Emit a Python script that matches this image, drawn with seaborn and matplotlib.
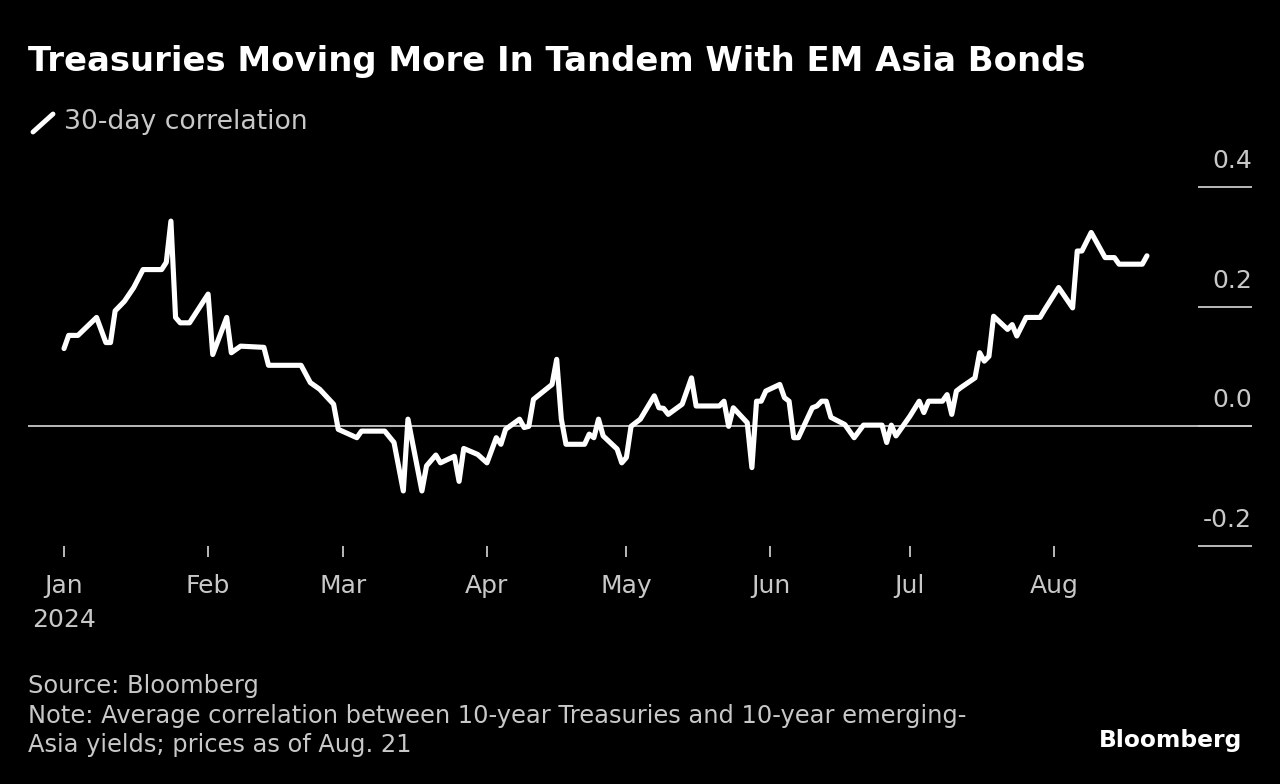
import pandas as pd
import seaborn as sns
import matplotlib
matplotlib.use('Agg')
import matplotlib.pyplot as plt
from matplotlib.lines import Line2D

# 30-day correlation (one entry per visible vertex)
dates = ['2024-01-01', '2024-01-02', '2024-01-04', '2024-01-08', '2024-01-10', '2024-01-11', '2024-01-12', '2024-01-14',
         '2024-01-16', '2024-01-18', '2024-01-22', '2024-01-23', '2024-01-24', '2024-01-25', '2024-01-26', '2024-01-28',
         '2024-02-01', '2024-02-02', '2024-02-05', '2024-02-06', '2024-02-08', '2024-02-13', '2024-02-14', '2024-02-21',
         '2024-02-23', '2024-02-25', '2024-02-28', '2024-02-29',
         '2024-03-04', '2024-03-05', '2024-03-10', '2024-03-12', '2024-03-14', '2024-03-15', '2024-03-18', '2024-03-19',
         '2024-03-21', '2024-03-22', '2024-03-25', '2024-03-26', '2024-03-27', '2024-03-30',
         '2024-04-01', '2024-04-03', '2024-04-04', '2024-04-05', '2024-04-08', '2024-04-09', '2024-04-10', '2024-04-11',
         '2024-04-15', '2024-04-16', '2024-04-17', '2024-04-18', '2024-04-22', '2024-04-23', '2024-04-24', '2024-04-25',
         '2024-04-26', '2024-04-29', '2024-04-30',
         '2024-05-01', '2024-05-02', '2024-05-04', '2024-05-07', '2024-05-08', '2024-05-09', '2024-05-10', '2024-05-13',
         '2024-05-15', '2024-05-16', '2024-05-21', '2024-05-22', '2024-05-23', '2024-05-24', '2024-05-27', '2024-05-28',
         '2024-05-29', '2024-05-30', '2024-05-31',
         '2024-06-03', '2024-06-04', '2024-06-05', '2024-06-06', '2024-06-07', '2024-06-10', '2024-06-11', '2024-06-12',
         '2024-06-13', '2024-06-14', '2024-06-17', '2024-06-19', '2024-06-21', '2024-06-25', '2024-06-26', '2024-06-27',
         '2024-06-28',
         '2024-07-01', '2024-07-03', '2024-07-04', '2024-07-05', '2024-07-08', '2024-07-09', '2024-07-10', '2024-07-11',
         '2024-07-12', '2024-07-15', '2024-07-16', '2024-07-17', '2024-07-18', '2024-07-19', '2024-07-22', '2024-07-23',
         '2024-07-24', '2024-07-26', '2024-07-29', '2024-07-30',
         '2024-08-02', '2024-08-05', '2024-08-06', '2024-08-07', '2024-08-09', '2024-08-12', '2024-08-14', '2024-08-15',
         '2024-08-20', '2024-08-21']
corr = [0.130, 0.152, 0.152, 0.182, 0.140, 0.140, 0.193, 0.209, 0.232, 0.262, 0.262, 0.274, 0.343, 0.182, 0.173, 0.173,
        0.221, 0.120, 0.182, 0.123, 0.134, 0.132, 0.102, 0.102, 0.073, 0.062, 0.037, -0.005,
        -0.019, -0.008, -0.008, -0.027, -0.108, 0.012, -0.108, -0.066, -0.048, -0.061, -0.050, -0.092, -0.037, -0.047,
        -0.061, -0.019, -0.030, -0.005, 0.012, -0.002, 0.000, 0.045, 0.070, 0.112, 0.012, -0.030, -0.030, -0.013,
        -0.019, 0.012, -0.016, -0.038, -0.061,
        -0.052, 0.000, 0.012, 0.051, 0.031, 0.030, 0.020, 0.037, 0.081, 0.034, 0.034, 0.042, 0.000, 0.031, 0.006,
        -0.069, 0.042, 0.042, 0.059,
        0.070, 0.048, 0.042, -0.019, -0.019, 0.031, 0.034, 0.042, 0.042, 0.015, 0.003, -0.019, 0.002, 0.002, -0.027,
        0.002, -0.016,
        0.017, 0.042, 0.023, 0.042, 0.042, 0.053, 0.020, 0.059, 0.065, 0.081, 0.123, 0.109, 0.117, 0.184, 0.162,
        0.170, 0.151, 0.182, 0.182, 0.195,
        0.232, 0.198, 0.293, 0.293, 0.324, 0.282, 0.282, 0.271, 0.271, 0.285]

y_ticks = [-0.2, 0.0, 0.2, 0.4]
y_labels = ['-0.2', '0.0', '0.2', '0.4']
month_starts = pd.date_range('2024-01-01', '2024-08-01', freq='MS')
month_labels = ['Jan\n2024', 'Feb', 'Mar', 'Apr', 'May', 'Jun', 'Jul', 'Aug']

df = pd.DataFrame({'date': pd.to_datetime(dates), 'corr': corr})

sns.set_theme(style='dark')
plt.rcParams['font.family'] = ['DejaVu Sans']

W, H = 1280, 784
fig = plt.figure(figsize=(12.8, 7.84), dpi=100, facecolor='black')
ax = fig.add_axes([28 / W, 1 - 546 / H, (1252 - 28) / W, (546 - 187) / H])
ax.set_facecolor('black')

grey = '#c8c8c8'
sns.lineplot(data=df, x='date', y='corr', ax=ax, color='white', linewidth=3.7, zorder=3)
ax.axhline(0, color=grey, lw=1.3, zorder=2)

ax.set_ylim(-0.2, 0.4)
t0 = pd.Timestamp('2024-01-01')
ax.set_xlim(t0 - pd.Timedelta(days=7.75), t0 + pd.Timedelta(days=255.6))
ax.set_xlabel('')
ax.set_ylabel('')
ax.grid(False)
for s in ax.spines.values():
    s.set_visible(False)

# y axis: short marks on the right, labels sitting above them
ax.yaxis.tick_right()
ax.set_yticks(y_ticks)
ax.tick_params(axis='y', direction='in', length=39, width=1.3, color=grey, labelright=False, right=True, left=False)
for v, lab in zip(y_ticks, y_labels):
    ax.annotate(lab, xy=(1.0, v), xycoords=ax.get_yaxis_transform(), xytext=(0, 26), textcoords='offset pixels',
                ha='right', va='center', color=grey, fontsize=18)

# x axis
ax.set_xticks(month_starts)
ax.set_xticklabels(month_labels)
ax.tick_params(axis='x', direction='out', length=8, width=1.3, color=grey, pad=12, labelsize=18, labelcolor=grey,
               bottom=True)
for lab in ax.get_xticklabels():
    lab.set_linespacing(1.55)

# header
fig.text(28 / W, 1 - 61 / H, 'Treasuries Moving More In Tandem With EM Asia Bonds', color='white', fontsize=24.4,
         fontweight='bold', ha='left', va='center')
fig.add_artist(Line2D([33 / W, 53 / W], [1 - 132 / H, 1 - 114 / H], transform=fig.transFigure, color='white', lw=3.5,
                      solid_capstyle='round'))
fig.text(64 / W, 1 - 122 / H, '30-day correlation', color=grey, fontsize=19.2, ha='left', va='center')

# footer
fig.text(28 / W, 1 - 686 / H, 'Source: Bloomberg', color=grey, fontsize=17.4, ha='left', va='center')
fig.text(28 / W, 1 - 716 / H, 'Note: Average correlation between 10-year Treasuries and 10-year emerging-',
         color=grey, fontsize=17.4, ha='left', va='center')
fig.text(28 / W, 1 - 745 / H, 'Asia yields; prices as of Aug. 21', color=grey, fontsize=17.4, ha='left', va='center')
fig.text(1242 / W, 1 - 740 / H, 'Bloomberg', color='white', fontsize=16.8, fontweight='bold', ha='right', va='center')

fig.savefig('out.png', dpi=100, facecolor='black')
